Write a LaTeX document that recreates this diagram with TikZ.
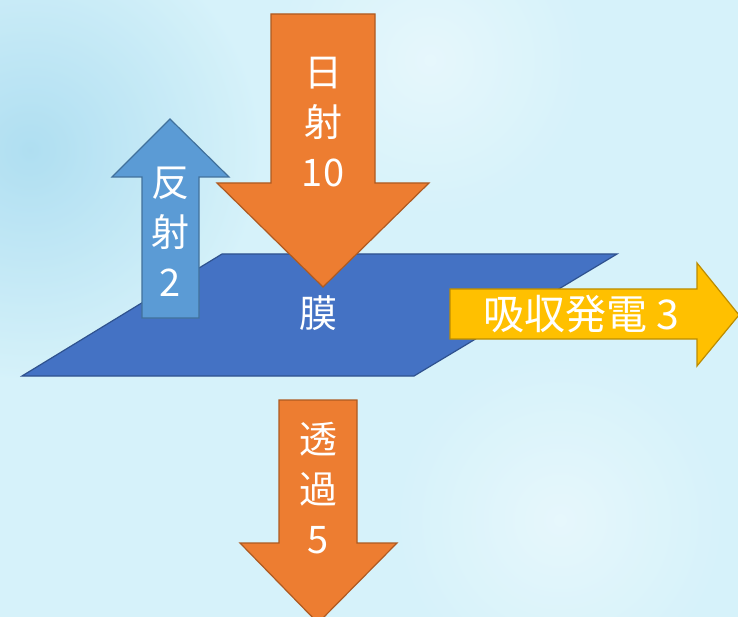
\documentclass[tikz,border=0pt]{standalone}
\usepackage{fontspec}
\newfontfamily\cjk{Noto Sans CJK JP}
\definecolor{water}{RGB}{214,242,250}
\definecolor{waterdark}{RGB}{150,210,236}
\definecolor{sunorange}{RGB}{237,125,49}
\definecolor{sunedge}{RGB}{174,90,33}
\definecolor{reflblue}{RGB}{91,155,213}
\definecolor{refledge}{RGB}{65,113,156}
\definecolor{filmblue}{RGB}{68,114,196}
\definecolor{filmedge}{RGB}{47,82,143}
\definecolor{powergold}{RGB}{255,192,0}
\definecolor{poweredge}{RGB}{188,140,0}

\begin{document}
\begin{tikzpicture}[x=1pt,y=-1pt,
    bigtext/.style={text=white,align=center,inner sep=0pt,
        font=\cjk\fontsize{38}{50}\selectfont},
    sunarrow/.style={fill=sunorange,draw=sunedge,line width=1.2pt,line join=miter},
    reflarrow/.style={fill=reflblue,draw=refledge,line width=1.2pt},
    powerarrow/.style={fill=powergold,draw=poweredge,line width=1.2pt},
    film/.style={fill=filmblue,draw=filmedge,line width=1.2pt}]
    % water background
    \useasboundingbox (0,0) rectangle (738,617);
    \fill [water] (0,0) rectangle (738,617);
    \shade [inner color=waterdark,outer color=water,opacity=0.6] (30,150) circle (230);
    \shade [inner color=white,outer color=water,opacity=0.4] (430,60) circle (160);
    \shade [inner color=white,outer color=water,opacity=0.4] (560,520) circle (170);
    % film
    \draw [film] (222,254) -- (617,254) -- (414,376) -- (22,376) -- cycle;
    % reflected light
    \draw [reflarrow] (142,318) -- (142,177) -- (112,177) -- (170,119)
        -- (229,177) -- (199,177) -- (199,318) -- cycle;
    % incoming sunlight
    \draw [sunarrow] (271,14) -- (375,14) -- (375,183) -- (429,183)
        -- (323,287) -- (217,183) -- (271,183) -- cycle;
    % absorbed and converted
    \draw [powerarrow] (450,289) -- (697,289) -- (697,263) -- (739,315)
        -- (697,366) -- (697,339) -- (450,339) -- cycle;
    % transmitted
    \draw [sunarrow] (279,400) -- (357,400) -- (357,543) -- (397,543)
        -- (318,623) -- (240,543) -- (279,543) -- cycle;
    % labels
    \node [bigtext] (sun) at (323,122) {日\\射\\10};
    \node [bigtext] (refl) at (170,232) {反\\射\\2};
    \node [bigtext] (film) at (318,313) {膜};
    \node [bigtext,font=\cjk\fontsize{41}{50}\selectfont] (power) at (581,314) {吸収発電 3};
    \node [bigtext] (trans) at (318,488) {透\\過\\5};
\end{tikzpicture}
\end{document}
